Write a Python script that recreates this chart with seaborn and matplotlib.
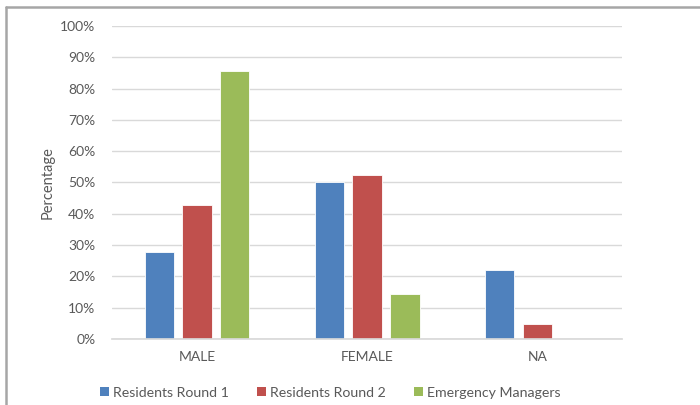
import numpy as np
import pandas as pd
import matplotlib
matplotlib.use("Agg")
import matplotlib.pyplot as plt
from matplotlib.lines import Line2D
from matplotlib.patches import Patch
from matplotlib.ticker import PercentFormatter
import seaborn as sns

# data (percent)
categories = ["MALE", "FEMALE", "NA"]
groups = ["Residents Round 1", "Residents Round 2", "Emergency Managers"]
round1 = [27.8, 50.0, 22.0]
round2 = [42.8, 52.4, 4.8]
managers = [85.6, 14.3, 0.0]

colors = ["#4F81BD", "#C0504D", "#9BBB59"]
txt = "#595959"

df = pd.DataFrame({
    "category": categories * 3,
    "group": np.repeat(groups, 3),
    "value": round1 + round2 + managers,
})

sns.set_theme(style="white")
plt.rcParams["font.family"] = ["Lato", "DejaVu Sans"]

fig = plt.figure(figsize=(7, 4.05), dpi=100)
ax = fig.add_axes([0.16, 0.163, 0.729, 0.773])

sns.barplot(data=df, x="category", y="value", hue="group", order=categories,
            hue_order=groups, palette=colors, width=0.665, gap=0.22,
            saturation=1, edgecolor="white", linewidth=0.6, legend=False, ax=ax)

ax.set_ylim(0, 100)
ax.set_xlim(-0.5, 2.5)
ax.set_yticks(np.arange(0, 101, 10))
ax.yaxis.set_major_formatter(PercentFormatter(decimals=0))
ax.yaxis.grid(True, color="#D9D9D9", linewidth=1)
ax.set_axisbelow(True)
for s in ["top", "right", "left"]:
    ax.spines[s].set_visible(False)
ax.spines["bottom"].set_color("#D9D9D9")
ax.tick_params(axis="both", length=0, labelsize=10, colors=txt)
ax.tick_params(axis="y", pad=12)
ax.tick_params(axis="x", pad=9)
ax.set_xlabel("")
ax.set_ylabel("Percentage", color=txt, fontsize=10.5, labelpad=4)

handles = [Patch(facecolor=c, edgecolor="none") for c in colors]
fig.legend(handles, groups, loc="center", bbox_to_anchor=(0.472, 0.03),
           ncol=3, frameon=False, fontsize=10.2, handlelength=0.6,
           handleheight=0.6, handletextpad=0.3, columnspacing=2.0,
           labelcolor=txt)

# outer chart frame (left and top edge)
fig.add_artist(Line2D([0.008, 0.008], [0, 0.982], transform=fig.transFigure,
                      color="#A6A6A6", linewidth=1.8))
fig.add_artist(Line2D([0.008, 1.0], [0.982, 0.982], transform=fig.transFigure,
                      color="#A6A6A6", linewidth=1.8))

fig.savefig("out.png", dpi=100)
